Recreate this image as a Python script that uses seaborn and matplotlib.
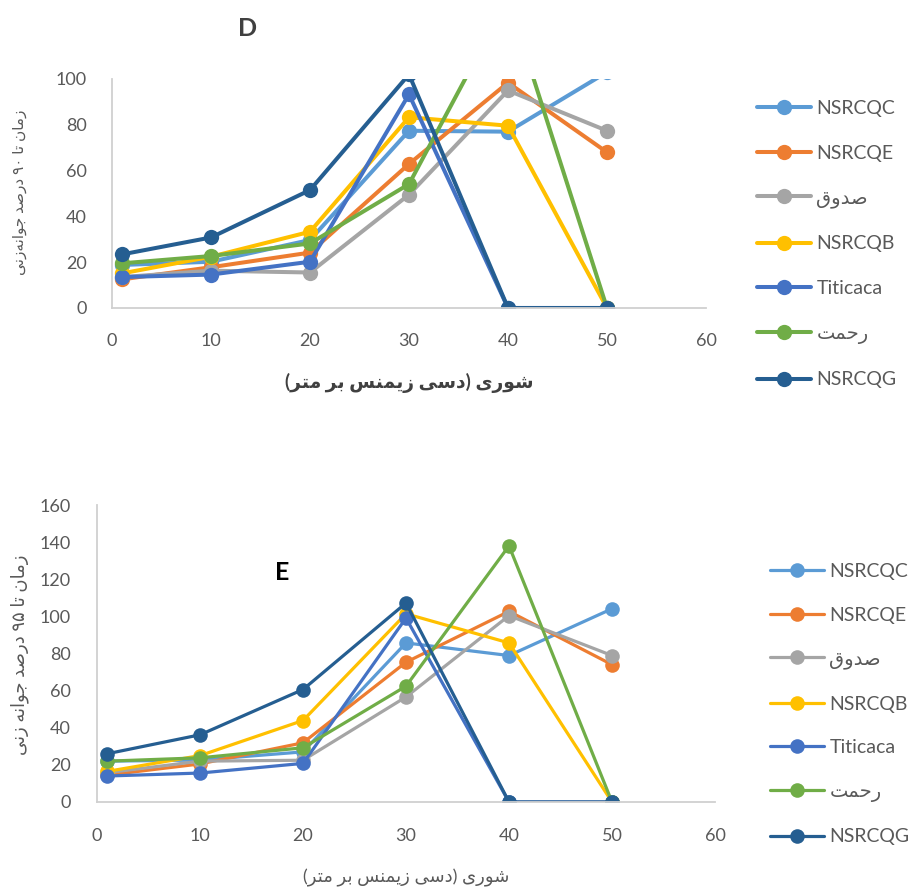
import re
import matplotlib
matplotlib.use('Agg')
import matplotlib.pyplot as plt
import seaborn as sns
import pandas as pd

# ─── Data ────────────────────────────────────────────────────────────────────
SALINITY = [1, 10, 20, 30, 40, 50]
CULTIVARS = ['NSRCQC', 'NSRCQE', 'صدوق', 'NSRCQB', 'Titicaca', 'رحمت', 'NSRCQG']
COLORS = ['#5B9BD5', '#ED7D31', '#A5A5A5', '#FFC000', '#4472C4', '#70AD47', '#255E91']

# D : time to 90% germination
D_NSRCQC   = [18.8, 20.2, 29.7, 77.4, 77.0, 103.0]
D_NSRCQE   = [12.5, 17.8, 24.2, 62.9, 98.4, 68.0]
D_SADUQ    = [13.5, 16.3, 15.5, 49.5, 95.0, 77.4]
D_NSRCQB   = [15.1, 22.4, 33.3, 83.3, 79.6, 0.0]
D_TITICACA = [13.5, 14.6, 20.2, 93.3, 0.0, 0.0]
D_RAHMAT   = [19.5, 22.7, 28.2, 54.1, 135.0, 0.0]
D_NSRCQG   = [23.4, 30.8, 51.5, 102.0, 0.0, 0.0]

# E : time to 95% germination
E_NSRCQC   = [22.0, 22.6, 27.0, 85.7, 78.9, 104.1]
E_NSRCQE   = [14.5, 20.5, 31.9, 75.3, 102.7, 74.0]
E_SADUQ    = [15.8, 22.0, 22.5, 56.6, 100.4, 78.9]
E_NSRCQB   = [16.5, 25.0, 43.9, 101.4, 85.7, 0.0]
E_TITICACA = [14.0, 15.6, 20.8, 99.1, 0.0, 0.0]
E_RAHMAT   = [22.0, 23.8, 29.2, 62.4, 138.0, 0.0]
E_NSRCQG   = [26.0, 36.2, 60.6, 107.2, 0.0, 0.0]

X_LABEL  = 'شوری (دسی زیمنس بر متر)'
Y_LABEL_D = 'زمان تا ۹۰ درصد جوانه‌زنی'
Y_LABEL_E = 'زمان تا ۹۵ درصد جوانه زنی'

# ─── Minimal Arabic shaping (matplotlib has no bidi / joining) ──────────────
FORMS = {
    'ا': ('\uFE8D', '\uFE8E', None, None),
    'د': ('\uFEA9', '\uFEAA', None, None),
    'ر': ('\uFEAD', '\uFEAE', None, None),
    'ز': ('\uFEAF', '\uFEB0', None, None),
    'و': ('\uFEED', '\uFEEE', None, None),
    'ب': ('\uFE8F', '\uFE90', '\uFE91', '\uFE92'),
    'ت': ('\uFE95', '\uFE96', '\uFE97', '\uFE98'),
    'ج': ('\uFE9D', '\uFE9E', '\uFE9F', '\uFEA0'),
    'ح': ('\uFEA1', '\uFEA2', '\uFEA3', '\uFEA4'),
    'س': ('\uFEB1', '\uFEB2', '\uFEB3', '\uFEB4'),
    'ش': ('\uFEB5', '\uFEB6', '\uFEB7', '\uFEB8'),
    'ص': ('\uFEB9', '\uFEBA', '\uFEBB', '\uFEBC'),
    'ق': ('\uFED5', '\uFED6', '\uFED7', '\uFED8'),
    'م': ('\uFEE1', '\uFEE2', '\uFEE3', '\uFEE4'),
    'ن': ('\uFEE5', '\uFEE6', '\uFEE7', '\uFEE8'),
    'ه': ('\uFEE9', '\uFEEA', '\uFEEB', '\uFEEC'),
    'ی': ('\uFEEF', '\uFEF0', '\uFEF3', '\uFEF4'),
}


def rtl(text):
    if not re.search('[\u0600-\u06ff]', text):
        return text
    out = []
    for i, c in enumerate(text):
        if c not in FORMS:
            if c != '\u200c':
                out.append(c)
            continue
        prev = text[i - 1] if i > 0 else ''
        nxt = text[i + 1] if i + 1 < len(text) else ''
        f = FORMS[c]
        j_prev = prev in FORMS and FORMS[prev][2] is not None
        j_next = f[2] is not None and nxt in FORMS
        if j_prev and j_next:
            out.append(f[3])
        elif j_prev:
            out.append(f[1])
        elif j_next:
            out.append(f[2])
        else:
            out.append(f[0])
    s = ''.join(out)[::-1].translate(str.maketrans('()', ')('))
    return re.sub('[0-9\u06f0-\u06f9]+', lambda m: m.group(0)[::-1], s)


def long_df(series):
    rows = []
    for name, vals in zip(CULTIVARS, series):
        for x, v in zip(SALINITY, vals):
            rows.append({'salinity': x, 'time': v, 'cultivar': name})
    return pd.DataFrame(rows)


df_d = long_df([D_NSRCQC, D_NSRCQE, D_SADUQ, D_NSRCQB, D_TITICACA, D_RAHMAT, D_NSRCQG])
df_e = long_df([E_NSRCQC, E_NSRCQE, E_SADUQ, E_NSRCQB, E_TITICACA, E_RAHMAT, E_NSRCQG])

# ─── Style ───────────────────────────────────────────────────────────────────
sns.set_theme(style='white')
plt.rcParams['font.family'] = ['Lato', 'DejaVu Sans']
TXT = '#595959'
AXC = '#D0D0D0'

W, H = 914, 891
fig = plt.figure(figsize=(W / 100, H / 100), dpi=100)


def px_axes(x0, x1, y_top, y_bot):
    return fig.add_axes([x0 / W, 1 - y_bot / H, (x1 - x0) / W, (y_bot - y_top) / H])


def draw(ax, df, lw, ms):
    sns.lineplot(data=df, x='salinity', y='time', hue='cultivar',
                 hue_order=CULTIVARS, palette=COLORS, marker='o',
                 markersize=ms, markeredgewidth=0, linewidth=lw,
                 legend=False, ax=ax, sort=False)
    for s in ['top', 'right']:
        ax.spines[s].set_visible(False)
    for s in ['left', 'bottom']:
        ax.spines[s].set_color(AXC)
        ax.spines[s].set_linewidth(1.3)
    ax.set_xlim(0, 60)
    ax.set_xticks(range(0, 61, 10))
    ax.set_xlabel('')
    ax.set_ylabel('')
    ax.tick_params(labelsize=13, labelcolor=TXT, color=AXC)


def add_legend(ax, x, y, spacing):
    fig.legend(ax.lines[:len(CULTIVARS)], [rtl(c) for c in CULTIVARS],
               loc='upper left', bbox_to_anchor=(x / W, 1 - y / H),
               frameon=False, fontsize=14, labelcolor=TXT,
               labelspacing=spacing, handlelength=2.8, handletextpad=0.25,
               borderpad=0, borderaxespad=0)


# ─── Chart D ─────────────────────────────────────────────────────────────────
ax1 = px_axes(112, 706, 79, 308)
draw(ax1, df_d, 2.9, 11)
ax1.set_ylim(0, 100)
ax1.set_yticks(range(0, 101, 20))
ax1.tick_params(length=0, pad=18)
add_legend(ax1, 757, 100, 1.42)
fig.text(248 / W, 1 - 28 / H, 'D', fontsize=18, fontweight='bold',
         color='#404040', ha='center', va='center')
fig.text(409 / W, 1 - 383 / H, rtl(X_LABEL), fontsize=13.5, fontweight='bold',
         color='#404040', ha='center', va='center')
fig.text(20 / W, 1 - 192 / H, rtl(Y_LABEL_D), fontsize=11, rotation=90,
         color=TXT, ha='center', va='center')

# ─── Chart E ─────────────────────────────────────────────────────────────────
ax2 = px_axes(97, 715, 505, 802)
draw(ax2, df_e, 2.3, 10.5)
ax2.set_ylim(0, 160)
ax2.set_yticks(range(0, 161, 20))
ax2.tick_params(length=5, width=1.3, pad=14)
add_legend(ax2, 770, 563, 1.37)
fig.text(282 / W, 1 - 573 / H, 'E', fontsize=18, fontweight='bold',
         color='black', ha='center', va='center')
fig.text(406 / W, 1 - 878 / H, rtl(X_LABEL), fontsize=13,
         color=TXT, ha='center', va='center')
fig.text(20 / W, 1 - 655 / H, rtl(Y_LABEL_E), fontsize=13, rotation=90,
         color=TXT, ha='center', va='center')

fig.savefig('out.png', dpi=100)
